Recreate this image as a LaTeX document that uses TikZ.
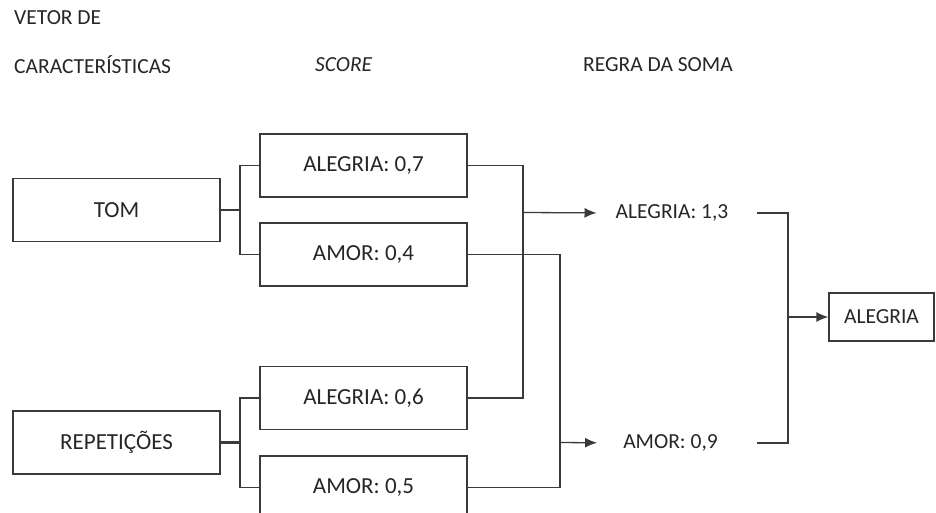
\documentclass[tikz,border=0pt]{standalone}
\usepackage{fontspec}
\setmainfont{Carlito}
\usetikzlibrary{arrows.meta}
\definecolor{ln}{HTML}{3A3A3A}
\definecolor{tx}{HTML}{262626}
\begin{document}
\begin{tikzpicture}[x=1pt,y=-1pt,
  lbl/.style={text=tx, inner sep=0pt, font=\fontsize{21.5}{25}\selectfont},
  box/.style={draw=ln, line width=1.3pt, inner sep=0pt, text=tx,
    minimum width=207pt, minimum height=63pt, font=\fontsize{23}{27}\selectfont},
  wire/.style={draw=ln, line width=1.3pt},
  thickwire/.style={draw=ln, line width=2.6pt},
  arr/.style={wire, -{Latex[length=12pt,width=10pt]}}]
\useasboundingbox (0,0) rectangle (936,513);
\clip (0,0) rectangle (936,513);
% headings
\node[lbl, anchor=west] (h1) at (14,18) {VETOR DE};
\node[lbl, anchor=west] (h2) at (14,65) {CARACTERÍSTICAS};
\node[lbl, anchor=west] (h3) at (315,65) {\itshape SCORE};
\node[lbl, anchor=west] (h4) at (583,65) {REGRA DA SOMA};
% feature boxes
\node[box] (tom) at (116.5,210) {TOM};
\node[box] (rep) at (116.5,442.5) {REPETIÇÕES};
% score boxes
\node[box] (a07) at (363.5,165.5) {ALEGRIA: 0,7};
\node[box] (m04) at (363.5,254.5) {AMOR: 0,4};
\node[box] (a06) at (363.5,398) {ALEGRIA: 0,6};
\node[box] (m05) at (363.5,487.5) {AMOR: 0,5};
% sums
\node[lbl] (s13) at (672,213) {ALEGRIA: 1,3};
\node[lbl] (s09) at (670.5,443) {AMOR: 0,9};
% result
\node[box, minimum width=105pt, minimum height=48pt, font=\fontsize{21.5}{25}\selectfont] (fin) at (881.5,317) {ALEGRIA};
% junction coordinates
\coordinate (jT) at (240,210);
\coordinate (jR) at (240,442.5);
\coordinate (cA) at (523,212.5);
\coordinate (cM) at (560,442.5);
\coordinate (cR) at (788,317);
% connectors
\draw[thickwire] (tom.east) -- (jT);
\draw[wire] (a07.west) -| (jT) |- (m04.west);
\draw[thickwire] (rep.east) -- (jR);
\draw[wire] (a06.west) -| (jR) |- (m05.west);
\draw[wire] (a07.east) -| (cA) |- (a06.east);
\draw[wire] (m04.east) -| (cM) |- (m05.east);
\draw[arr, shorten >=19pt] (cA) -- (s13.west);
\draw[arr, shorten >=26pt] (cM) -- (s09.west);
\draw[wire, shorten <=28pt] (s13.east) -| (cR);
\draw[wire, shorten <=39pt] (s09.east) -| (cR);
\draw[arr] (cR) -- (fin.west);
\end{tikzpicture}
\end{document}
